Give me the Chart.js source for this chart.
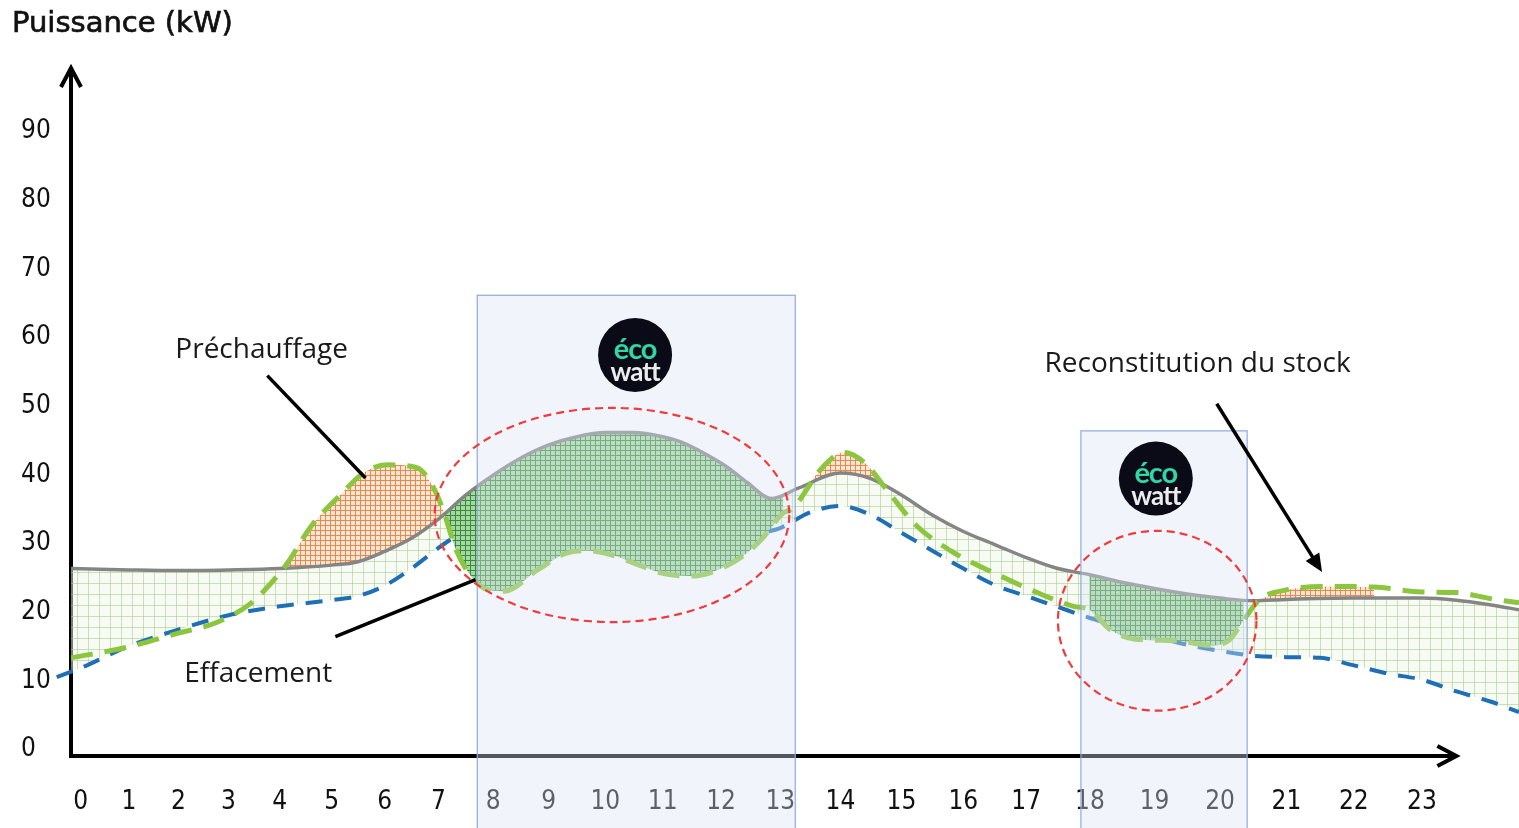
<!DOCTYPE html>
<html lang="fr">
<head>
<meta charset="utf-8">
<title>Puissance (kW)</title>
<script src="https://cdn.jsdelivr.net/npm/chart.js@4.4.1/dist/chart.umd.min.js"></script>
<style>
  html, body { margin: 0; padding: 0; background: #fff; }
  #wrap { position: relative; width: 1519px; height: 828px; }
</style>
</head>
<body>
<div id="wrap"><canvas id="chart"></canvas></div>
<script>
// axes
const hours = [0, 1, 2, 3, 4, 5, 6, 7, 8, 9, 10, 11, 12, 13, 14, 15, 16, 17, 18, 19, 20, 21, 22, 23];
const yTicks = [0, 10, 20, 30, 40, 50, 60, 70, 80, 90];

// courbe grise : consommation sans pilotage
const refHours = [-0.2, 1, 2, 3, 4, 5, 5.5, 6, 6.5, 7, 7.5, 8, 8.5, 9, 9.5, 10, 10.5, 11, 11.3, 11.6, 12.1, 12.45, 12.85, 13.3, 14, 14.5, 15, 15.5, 16, 16.5, 17, 17.5, 18, 18.5, 19, 19.5, 20, 20.5, 21, 22, 23, 23.5, 24, 24.4];
const refPower = [25.8, 25.6, 25.5, 25.6, 25.8, 26.3, 26.8, 28.3, 30.2, 33, 36.5, 39.4, 41.9, 43.8, 45, 45.6, 45.6, 45, 44.3, 43.1, 40.6, 38.3, 36, 37.5, 39.7, 38.9, 36.5, 33.6, 31.2, 29.3, 27.4, 25.8, 24.9, 23.8, 22.9, 22.1, 21.5, 21.1, 21.3, 21.5, 21.5, 21.2, 20.5, 19.8];

// courbe bleue en tirets (masquée pendant le premier créneau)
const baseHours = [-0.5, 0, 1, 2, 3, 4, 5, 5.5, 6, 6.5, 7, 7.4, 7.6, 12.8, 13, 13.5, 14, 14.5, 15, 15.5, 16, 16.5, 17, 17.5, 18, 18.5, 19, 19.5, 20, 20.5, 21, 21.5, 22, 22.5, 23, 23.5, 24, 24.4];
const basePower = [10, 11.3, 14.5, 16.9, 19, 20.3, 21.2, 21.8, 23.3, 25.8, 28.8, 31, null, 31.2, 31.7, 34, 34.9, 33.6, 31, 28.4, 25.8, 23.4, 21.8, 20.2, 18.6, 17.2, 15.9, 14.7, 13.8, 13.1, 12.9, 12.8, 11.7, 10.5, 9.6, 7.9, 6.4, 4.9];

// courbe verte en tirets : consommation pilotée
const pilotHours = [-0.2, 1, 2, 2.75, 3.45, 3.8, 4.15, 4.6, 5.2, 5.6, 6.05, 6.6, 6.9, 7.1, 7.3, 7.55, 7.9, 8.2, 8.8, 9.3, 9.7, 10.1, 10.5, 11, 11.5, 12, 12.4, 12.7, 13.05, 13.2, 13.7, 14.05, 14.4, 14.8, 15.25, 15.85, 16.55, 17.2, 17.75, 18, 18.3, 18.7, 19.3, 19.9, 20.15, 20.35, 20.6, 21, 21.6, 22.3, 23, 23.5, 24, 24.4];
const pilotPower = [12.8, 14.4, 16.4, 17.9, 20.8, 23.4, 26.6, 31.9, 36.8, 39.7, 40.9, 40.5, 37.7, 34, 29, 25.2, 22.7, 22.5, 25.6, 28, 28.4, 27.8, 26.6, 25.1, 24.7, 25.8, 27.8, 30.2, 33.9, 34.5, 40.5, 42.7, 41.2, 36.8, 32, 28.1, 24.9, 22.2, 20.3, 19.8, 17, 15.5, 15.3, 14.6, 15.5, 18.2, 21.3, 22.7, 23.2, 23.1, 22.4, 22.3, 21.4, 20.8];

// fenêtres de préchauffage / effacement (heures)
const preheatFrom = [3.75, 13.15, 20.5];
const preheatTo = [7.1, 14.85, 22.3];
const shedFrom = [6.9, 18];
const shedTo = [13.05, 20.35];

// créneaux Ecowatt
const ecoFrom = [7.71, 17.86];
const ecoTo = [13.25, 20.41];
const ecoTop = [65.6, 45.85];
const logoAt = [[10.52, 56.9], [19.02, 38.9]];

// cercles rouges (heure début, heure fin, kW bas, kW haut)
const rings = [[6.93, 13.15, 18, 49.2], [17.5, 20.55, 5.1, 31.3]];

// annotations
const notes = ['Préchauffage', 'Effacement', 'Reconstitution du stock'];
const noteAt = [[1.94, 57.6], [2.12, 10.5], [17.29, 55.6]];
const pointerFrom = [[3.76, 53.9], [5.07, 15.9], [19.95, 49.8]];
const pointerTo = [[5.64, 39.0], [7.68, 24.2], [21.53, 25.3]];
const pointerHead = [false, false, true];

const axisEnd = 23.5;

// x axis gets wider towards the evening in the original drawing
const WARP = 0.009375;
const warp = v => v + WARP * v * v;
class HourScale extends Chart.LinearScale {
  getPixelForValue(value) {
    if (value === null || value === undefined) return NaN;
    const a = warp(this.min), b = warp(this.max);
    return this.getPixelForDecimal((warp(value) - a) / (b - a));
  }
  getValueForPixel(pixel) {
    const a = warp(this.min), b = warp(this.max);
    const w = a + this.getDecimalForPixel(pixel) * (b - a);
    return (-1 + Math.sqrt(1 + 4 * WARP * w)) / (2 * WARP);
  }
}
HourScale.id = 'hour';
HourScale.defaults = Chart.LinearScale.defaults;
Chart.register(HourScale);

function gridPattern(size, bg, line, lw) {
  const c = document.createElement('canvas');
  c.width = c.height = size;
  const g = c.getContext('2d');
  g.fillStyle = bg;
  g.fillRect(0, 0, size, size);
  g.fillStyle = line;
  g.fillRect(0, 0, lw, size);
  g.fillRect(0, 0, size, lw);
  return g.createPattern(c, 'repeat');
}
const lightHatch = gridPattern(11, 'rgba(240,247,234,0.5)', 'rgba(170,205,145,0.6)', 1);
const orangeHatch = gridPattern(5, 'rgba(250,222,200,0.8)', 'rgba(228,135,75,0.95)', 1);
const greenHatch = gridPattern(5, 'rgba(160,210,155,0.9)', 'rgba(55,140,55,1)', 1);

const pts = (xs, ys) => xs.map((x, i) => ({ x, y: ys[i] }));
const pilotPts = pts(pilotHours, pilotPower);
const within = (from, to) => pilotPts.map(p =>
  from.some((f, i) => p.x >= f && p.x <= to[i]) ? p : { x: p.x, y: null });

const tickFont = { family: '"Liberation Sans Narrow", "DejaVu Sans Condensed", sans-serif', size: 26, lineHeight: '8px' };

function chevron(ctx, tx, ty, dx, dy, len, half) {
  const bx = tx - dx * len, by = ty - dy * len;
  ctx.beginPath();
  ctx.moveTo(bx - dy * half, by + dx * half);
  ctx.lineTo(tx, ty);
  ctx.lineTo(bx + dy * half, by - dx * half);
  ctx.stroke();
}

function ecowatt(ctx, x, y, r) {
  ctx.save();
  ctx.fillStyle = '#0b0b17';
  ctx.beginPath();
  ctx.arc(x, y, r, 0, Math.PI * 2);
  ctx.fill();
  ctx.textAlign = 'center';
  ctx.textBaseline = 'alphabetic';
  ctx.letterSpacing = '-1px';
  ctx.fillStyle = '#2fd6a6';
  ctx.font = 'bold 29px Lato, sans-serif';
  ctx.fillText('éco', x, y + 4);
  ctx.fillStyle = '#ececec';
  ctx.font = 'bold 26px Lato, sans-serif';
  ctx.fillText('watt', x, y + 26);
  ctx.restore();
}

const decor = {
  id: 'decor',
  beforeDatasetsDraw(chart) {
    const { ctx, chartArea: a, scales: { x, y } } = chart;
    const y0 = y.getPixelForValue(y.min);
    const xe = x.getPixelForValue(axisEnd);
    ctx.save();
    ctx.strokeStyle = '#000';
    ctx.lineWidth = 4;
    ctx.beginPath();
    ctx.moveTo(a.left, y0 + 2);
    ctx.lineTo(a.left, a.top + 2);
    ctx.moveTo(a.left - 2, y0);
    ctx.lineTo(xe - 2, y0);
    ctx.stroke();
    chevron(ctx, a.left, a.top, 0, -1, 19, 10);
    chevron(ctx, xe, y0, 1, 0, 19, 10);
    ctx.restore();
  },
  afterDatasetsDraw(chart) {
    const { ctx, scales: { x, y } } = chart;
    ctx.save();
    // créneaux Ecowatt (voile bleuté par-dessus)
    ecoFrom.forEach((f, i) => {
      const l = x.getPixelForValue(f), r = x.getPixelForValue(ecoTo[i]);
      const t = y.getPixelForValue(ecoTop[i]);
      ctx.fillStyle = 'rgba(218,230,245,0.38)';
      ctx.fillRect(l, t, r - l, chart.height - t);
      ctx.strokeStyle = '#8eaadc';
      ctx.lineWidth = 1.2;
      ctx.strokeRect(l, t, r - l, chart.height - t + 5);
    });
    // cercles rouges
    ctx.strokeStyle = '#ef3b3b';
    ctx.lineWidth = 2.2;
    ctx.setLineDash([8, 5]);
    rings.forEach(([h1, h2, v1, v2]) => {
      const l = x.getPixelForValue(h1), r = x.getPixelForValue(h2);
      const b = y.getPixelForValue(v1), t = y.getPixelForValue(v2);
      ctx.beginPath();
      ctx.ellipse((l + r) / 2, (t + b) / 2, (r - l) / 2, (b - t) / 2, 0, 0, Math.PI * 2);
      ctx.stroke();
    });
    ctx.setLineDash([]);
    logoAt.forEach(([h, v]) => ecowatt(ctx, x.getPixelForValue(h), y.getPixelForValue(v), 37));
    // annotations
    ctx.font = '28px "Open Sans", sans-serif';
    ctx.fillStyle = '#1a1a1a';
    ctx.textAlign = 'left';
    ctx.textBaseline = 'middle';
    notes.forEach((n, i) => ctx.fillText(n, x.getPixelForValue(noteAt[i][0]), y.getPixelForValue(noteAt[i][1])));
    ctx.strokeStyle = '#000';
    ctx.fillStyle = '#000';
    ctx.lineWidth = 3.5;
    pointerFrom.forEach((p, i) => {
      const x1 = x.getPixelForValue(p[0]), y1 = y.getPixelForValue(p[1]);
      const x2 = x.getPixelForValue(pointerTo[i][0]), y2 = y.getPixelForValue(pointerTo[i][1]);
      const len = Math.hypot(x2 - x1, y2 - y1), dx = (x2 - x1) / len, dy = (y2 - y1) / len;
      const end = pointerHead[i] ? 14 : 0;
      ctx.beginPath();
      ctx.moveTo(x1, y1);
      ctx.lineTo(x2 - dx * end, y2 - dy * end);
      ctx.stroke();
      if (pointerHead[i]) {
        ctx.beginPath();
        ctx.moveTo(x2, y2);
        ctx.lineTo(x2 - dx * 18 - dy * 8, y2 - dy * 18 + dx * 8);
        ctx.lineTo(x2 - dx * 18 + dy * 8, y2 - dy * 18 - dx * 8);
        ctx.closePath();
        ctx.fill();
      }
    });
    // titre
    ctx.font = '29px "DejaVu Sans", sans-serif';
    ctx.textBaseline = 'alphabetic';
    ctx.fillStyle = '#111';
    ctx.strokeStyle = '#111';
    ctx.lineWidth = 0.7;
    ctx.fillText('Puissance (kW)', 12, 32);
    ctx.strokeText('Puissance (kW)', 12, 32);
    ctx.restore();
  }
};

new Chart(document.getElementById('chart'), {
  type: 'line',
  data: {
    datasets: [
      {
        label: 'Consommation pilotée',
        data: pilotPts,
        borderColor: '#8cc63f',
        borderWidth: 5,
        borderDash: [22, 12],
        fill: false
      },
      {
        label: 'Consommation',
        data: pts(refHours, refPower),
        borderColor: '#858585',
        borderWidth: 3.5,
        fill: false
      },
      {
        label: 'Préchauffage',
        data: within(preheatFrom, preheatTo),
        showLine: false,
        borderWidth: 0,
        fill: { target: 1, above: orangeHatch, below: 'rgba(0,0,0,0)' }
      },
      {
        label: 'Effacement',
        data: within(shedFrom, shedTo),
        showLine: false,
        borderWidth: 0,
        fill: { target: 1, above: 'rgba(0,0,0,0)', below: greenHatch }
      },
      {
        label: 'Base',
        data: pts(baseHours, basePower),
        borderColor: '#1f6fb6',
        borderWidth: 4,
        borderDash: [17, 12],
        clip: false,
        fill: { target: 1, above: lightHatch, below: lightHatch }
      }
    ]
  },
  options: {
    responsive: true,
    maintainAspectRatio: false,
    animation: false,
    events: [],
    elements: { point: { radius: 0 }, line: { cubicInterpolationMode: 'monotone' } },
    layout: { padding: { left: 21, top: 68, right: 0, bottom: 0 } },
    plugins: { legend: { display: false }, tooltip: { enabled: false } },
    scales: {
      x: {
        type: 'hour',
        min: -0.2,
        max: 24.4,
        grid: { display: false },
        border: { display: false },
        afterBuildTicks: s => { s.ticks = hours.map(v => ({ value: v })); },
        afterFit: s => { s.height = 72; },
        ticks: { autoSkip: false, maxRotation: 0, padding: 34, color: '#111', font: tickFont }
      },
      y: {
        min: -1.5,
        max: 98.7,
        grid: { display: false },
        border: { display: false },
        afterBuildTicks: s => { s.ticks = yTicks.map(v => ({ value: v })); },
        afterFit: s => { s.width = 50; },
        // empty first line nudges the label down to sit level with its value
        ticks: { crossAlign: 'far', color: '#111', font: tickFont, callback: v => ['', String(v)] }
      }
    }
  },
  plugins: [decor]
});
</script>
</body>
</html>
